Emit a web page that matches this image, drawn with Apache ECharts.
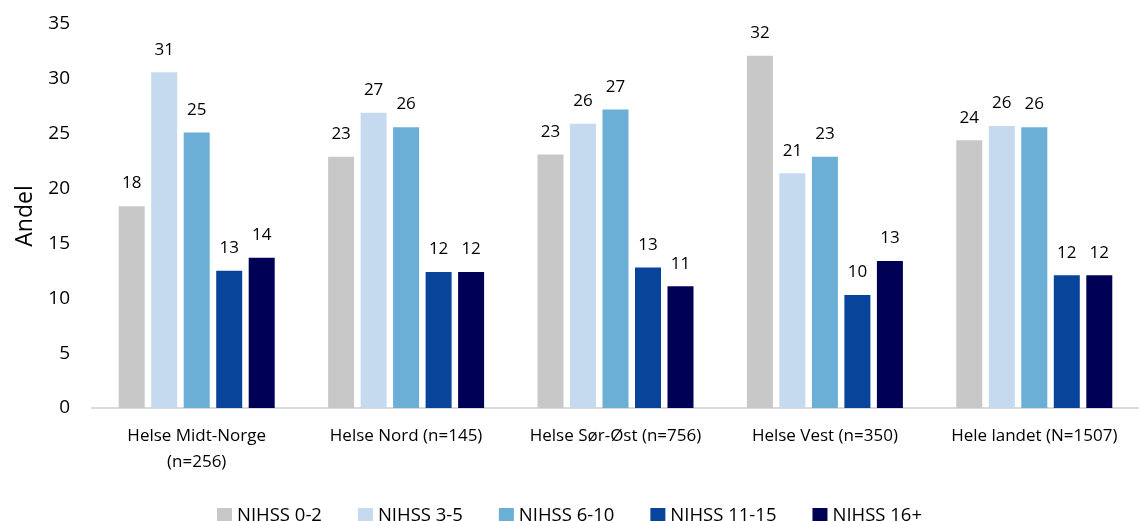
<!DOCTYPE html>
<html lang="no">
  <head>
    <meta charset="utf-8" />
    <style>
      html, body { margin: 0; background: #fff; }
      #container { width: 1139px; height: 521px; }
    </style>
    <script src="https://cdn.jsdelivr.net/npm/echarts@6/dist/echarts.min.js"></script>
  </head>
  <body>
    <div id="container"></div>
    <script>
      // regioner
      var categories = [
        "Helse Midt-Norge\n(n=256)",
        "Helse Nord (n=145)",
        "Helse Sør-Øst (n=756)",
        "Helse Vest (n=350)",
        "Hele landet (N=1507)"
      ];
      var seriesNames = ["NIHSS 0-2", "NIHSS 3-5", "NIHSS 6-10", "NIHSS 11-15", "NIHSS 16+"];
      var nihss0_2 = [18.4, 22.9, 23.1, 32.1, 24.4];
      var nihss3_5 = [30.6, 26.9, 25.9, 21.4, 25.7];
      var nihss6_10 = [25.1, 25.6, 27.2, 22.9, 25.6];
      var nihss11_15 = [12.5, 12.4, 12.8, 10.3, 12.1];
      var nihss16 = [13.7, 12.4, 11.1, 13.4, 12.1];
      var colors = ["#C8C8C8", "#C5DAEE", "#6BAED6", "#08449A", "#000055"];

      var font = "'Open Sans', 'Noto Sans', sans-serif";
      var chart = echarts.init(document.getElementById("container"));

      var values = [nihss0_2, nihss3_5, nihss6_10, nihss11_15, nihss16];
      var series = seriesNames.map(function (name, i) {
        return {
          name: name,
          type: "bar",
          data: values[i],
          barWidth: 26,
          barGap: "25%",
          itemStyle: { color: colors[i] },
          label: {
            show: true,
            position: "top",
            distance: 14,
            color: "#000",
            fontFamily: font,
            fontSize: 17,
            formatter: function (p) { return Math.round(p.value); }
          }
        };
      });

      chart.setOption({
        animation: false,
        color: colors,
        grid: { left: 92, right: 0, top: 24, bottom: 113 },
        legend: {
          top: 501,
          left: "center",
          itemWidth: 15,
          itemHeight: 15,
          itemGap: 36,
          icon: "rect",
          textStyle: { fontFamily: font, fontSize: 18.5, color: "#000" },
          data: seriesNames
        },
        xAxis: {
          type: "category",
          data: categories,
          axisLine: { lineStyle: { color: "#D9D9D9", width: 2 } },
          axisTick: { show: false },
          axisLabel: {
            interval: 0,
            color: "#000",
            fontFamily: font,
            fontSize: 17,
            margin: 15,
            lineHeight: 26
          }
        },
        yAxis: {
          type: "value",
          min: 0,
          max: 35,
          interval: 5,
          name: "Andel",
          nameLocation: "middle",
          nameGap: 48,
          nameTextStyle: { fontFamily: font, fontSize: 23, color: "#000" },
          splitLine: { show: false },
          axisLine: { show: false },
          axisLabel: { color: "#000", fontFamily: font, fontSize: 19, margin: 22 }
        },
        series: series
      });
    </script>
  </body>
</html>
